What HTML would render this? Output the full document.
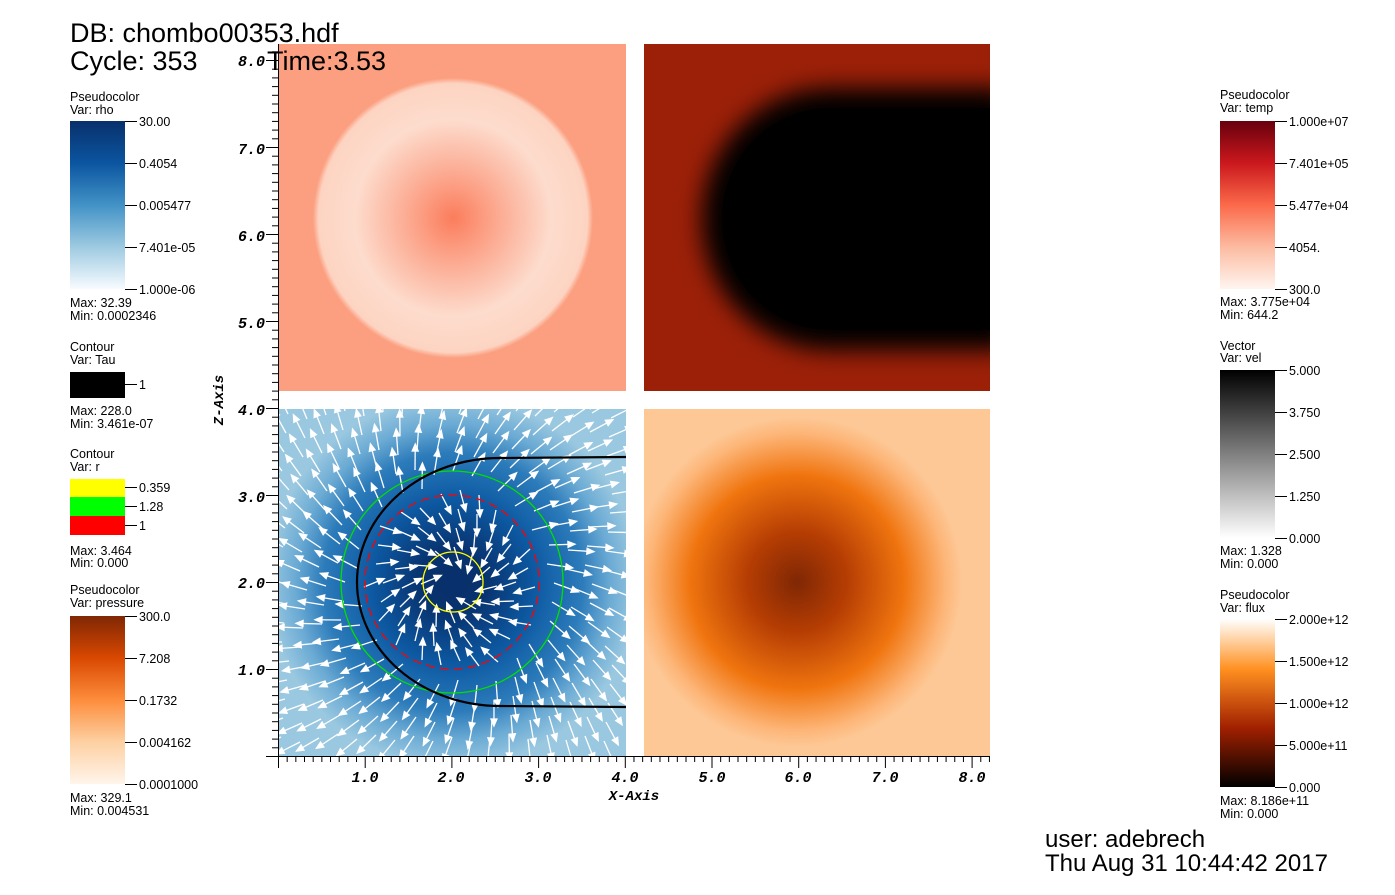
<!DOCTYPE html>
<html><head><meta charset="utf-8"><style>
body{margin:0;background:#fff;width:1395px;height:890px;overflow:hidden;font-family:"Liberation Sans",sans-serif}
</style></head><body>
<svg id="s" width="1395" height="890" xmlns="http://www.w3.org/2000/svg" font-family="Liberation Sans, sans-serif">
<defs>
<radialGradient id="tl" cx="453" cy="218" r="140" gradientUnits="userSpaceOnUse">
<stop offset="0" stop-color="#fb7d5c"/><stop offset="0.35" stop-color="#fcae96"/><stop offset="0.7" stop-color="#fddccd"/><stop offset="0.96" stop-color="#fdd4c2"/><stop offset="1" stop-color="#fc9f80"/></radialGradient>
<radialGradient id="bl" cx="453" cy="582" r="185" gradientUnits="userSpaceOnUse">
<stop offset="0" stop-color="#08306b"/><stop offset="0.17" stop-color="#08326e"/><stop offset="0.45" stop-color="#0d5aa3"/><stop offset="0.7" stop-color="#2c7bba"/><stop offset="0.85" stop-color="#6aaad4"/><stop offset="1" stop-color="#9ac8e0"/></radialGradient>
<radialGradient id="br" cx="797" cy="582" r="165" gradientUnits="userSpaceOnUse">
<stop offset="0" stop-color="#7f2704"/><stop offset="0.3" stop-color="#b53d03"/><stop offset="0.65" stop-color="#f0750f"/><stop offset="0.9" stop-color="#fdb577"/><stop offset="1" stop-color="#fdc896"/></radialGradient>
<linearGradient id="c1" x1="0" y1="0" x2="0" y2="1"><stop offset="0" stop-color="#08306b"/><stop offset="0.25" stop-color="#0b55a0"/><stop offset="0.5" stop-color="#4292c6"/><stop offset="0.75" stop-color="#9ecae1"/><stop offset="1" stop-color="#f7fbff"/></linearGradient>
<linearGradient id="c2" x1="0" y1="0" x2="0" y2="1"><stop offset="0" stop-color="#7f2704"/><stop offset="0.25" stop-color="#d94801"/><stop offset="0.5" stop-color="#fd8d3c"/><stop offset="0.75" stop-color="#fdd0a2"/><stop offset="1" stop-color="#fff5eb"/></linearGradient>
<linearGradient id="c3" x1="0" y1="0" x2="0" y2="1"><stop offset="0" stop-color="#67000d"/><stop offset="0.25" stop-color="#cb181d"/><stop offset="0.5" stop-color="#fb6a4a"/><stop offset="0.75" stop-color="#fcbba1"/><stop offset="1" stop-color="#fff5f0"/></linearGradient>
<linearGradient id="c4" x1="0" y1="0" x2="0" y2="1"><stop offset="0" stop-color="#000"/><stop offset="1" stop-color="#fff"/></linearGradient>
<linearGradient id="c5" x1="0" y1="0" x2="0" y2="1"><stop offset="0" stop-color="#fff"/><stop offset="0.3" stop-color="#ff9020"/><stop offset="0.65" stop-color="#a02000"/><stop offset="1" stop-color="#000"/></linearGradient>
<filter id="bk"><feGaussianBlur stdDeviation="12"/></filter>
<clipPath id="tr"><rect x="644" y="44" width="346" height="347"/></clipPath>
<clipPath id="blc"><rect x="279" y="409" width="347" height="347"/></clipPath>
</defs>
<rect x="279" y="44" width="347" height="347" fill="url(#tl)"/>
<rect x="644" y="44" width="346" height="347" fill="#9c2008"/>
<g clip-path="url(#tr)"><path d="M830 88 L1010 88 L1010 350 L830 350 A128 131 0 0 1 830 88Z" fill="#000" filter="url(#bk)"/><path d="M830 108 L1000 108 L1000 330 L830 330 A108 111 0 0 1 830 108Z" fill="#000"/></g>
<rect x="279" y="409" width="347" height="347" fill="url(#bl)"/>
<rect x="644" y="409" width="346" height="347" fill="url(#br)"/>
<g id="arr" clip-path="url(#blc)" stroke="#fff" fill="#fff" stroke-width="1.3"></g>
<g fill="none" stroke-width="1.3">
<circle cx="452" cy="582" r="111" stroke="#00e000"/>
<circle cx="452" cy="582" r="87" stroke="#f00" stroke-dasharray="9,5"/>
<circle cx="453" cy="582" r="30" stroke="#ff0"/>
<path d="M626 457 L500 458 A143 124 0 0 0 500 706 L626 707" stroke="#000" stroke-width="2.2"/>
</g>
<g stroke="#000" stroke-width="1" id="ax"><line x1="278.5" y1="44" x2="278.5" y2="757"/><line x1="278" y1="756.5" x2="990" y2="756.5"/></g>
<g font-family="Liberation Mono, monospace" font-weight="bold" font-style="italic" font-size="15" fill="#000">
<text x="365" y="782" text-anchor="middle">1.0</text><text x="451" y="782" text-anchor="middle">2.0</text><text x="538" y="782" text-anchor="middle">3.0</text><text x="625" y="782" text-anchor="middle">4.0</text><text x="712" y="782" text-anchor="middle">5.0</text><text x="798" y="782" text-anchor="middle">6.0</text><text x="885" y="782" text-anchor="middle">7.0</text><text x="972" y="782" text-anchor="middle">8.0</text>
<text x="634" y="800" text-anchor="middle" font-size="14">X-Axis</text>
<text x="265" y="66" text-anchor="end">8.0</text><text x="265" y="154" text-anchor="end">7.0</text><text x="265" y="241" text-anchor="end">6.0</text><text x="265" y="328" text-anchor="end">5.0</text><text x="265" y="415" text-anchor="end">4.0</text><text x="265" y="502" text-anchor="end">3.0</text><text x="265" y="588" text-anchor="end">2.0</text><text x="265" y="675" text-anchor="end">1.0</text>
<text transform="translate(223,400) rotate(-90)" text-anchor="middle" font-size="14">Z-Axis</text>
</g>
<g fill="#000" font-size="27"><text x="70" y="42">DB: chombo00353.hdf</text><text x="70" y="70">Cycle: 353</text><text x="267" y="70">Time:3.53</text>
<text x="1045" y="847" font-size="24">user: adebrech</text><text x="1045" y="871" font-size="24">Thu Aug 31 10:44:42 2017</text></g>
<g font-size="12.5" fill="#000" stroke="#000">
<g stroke="none"><text x="70" y="101">Pseudocolor</text><text x="70" y="114">Var: rho</text><text x="70" y="307">Max:  32.39</text><text x="70" y="320">Min:  0.0002346</text>
<text x="70" y="351">Contour</text><text x="70" y="364">Var: Tau</text><text x="70" y="415">Max:  228.0</text><text x="70" y="428">Min:  3.461e-07</text>
<text x="70" y="458">Contour</text><text x="70" y="471">Var: r</text><text x="70" y="555">Max:  3.464</text><text x="70" y="567">Min:  0.000</text>
<text x="70" y="594">Pseudocolor</text><text x="70" y="607">Var: pressure</text><text x="70" y="802">Max:  329.1</text><text x="70" y="815">Min:  0.004531</text>
<text x="1220" y="99">Pseudocolor</text><text x="1220" y="112">Var: temp</text><text x="1220" y="306">Max:  3.775e+04</text><text x="1220" y="319">Min:  644.2</text>
<text x="1220" y="350">Vector</text><text x="1220" y="362">Var: vel</text><text x="1220" y="555">Max:  1.328</text><text x="1220" y="568">Min:  0.000</text>
<text x="1220" y="599">Pseudocolor</text><text x="1220" y="612">Var: flux</text><text x="1220" y="805">Max:  8.186e+11</text><text x="1220" y="818">Min:  0.000</text></g>
<rect x="70" y="121" width="55" height="168" fill="url(#c1)" stroke="none"/>
<rect x="70" y="372" width="55" height="26" fill="#000" stroke="none"/>
<rect x="70" y="479" width="55" height="18" fill="#ff0" stroke="none"/><rect x="70" y="497" width="55" height="19" fill="#0f0" stroke="none"/><rect x="70" y="516" width="55" height="19" fill="#f00" stroke="none"/>
<rect x="70" y="616" width="55" height="168" fill="url(#c2)" stroke="none"/>
<rect x="1220" y="121" width="55" height="168" fill="url(#c3)" stroke="none"/>
<rect x="1220" y="370" width="55" height="168" fill="url(#c4)" stroke="none"/>
<rect x="1220" y="619" width="55" height="168" fill="url(#c5)" stroke="none"/>
</g>
<g id="lbl" font-size="12.5" fill="#000"></g>
</svg>
<script>
var ns="http://www.w3.org/2000/svg",s=document.getElementById('s');
function el(p,t,a,txt){var e=document.createElementNS(ns,t);for(var k in a)e.setAttribute(k,a[k]);if(txt)e.textContent=txt;p.appendChild(e);return e;}
var lb=document.getElementById('lbl');
function bar(x,ys,labs){for(var i=0;i<ys.length;i++){el(lb,'line',{x1:x,x2:x+12,y1:ys[i]+.5,y2:ys[i]+.5,stroke:'#000'});el(lb,'text',{x:x+14,y:ys[i]+5},labs[i]);}}
bar(125,[121,163,205,247,289],['30.00','0.4054','0.005477','7.401e-05','1.000e-06']);
bar(125,[384],['1']);
bar(125,[487,506,525],['0.359','1.28','1']);
bar(125,[616,658,700,742,784],['300.0','7.208','0.1732','0.004162','0.0001000']);
bar(1275,[121,163,205,247,289],['1.000e+07','7.401e+05','5.477e+04','4054.','300.0']);
bar(1275,[370,412,454,496,538],['5.000','3.750','2.500','1.250','0.000']);
bar(1275,[619,661,703,745,787],['2.000e+12','1.500e+12','1.000e+12','5.000e+11','0.000']);
var ax=document.getElementById('ax');
for(var i=0;i<=82;i++){var x=278.5+i*8.67,maj=(i%10==0);el(ax,'line',{x1:x,x2:x,y1:756,y2:756+(maj?12:6)});}
for(var i=0;i<=82;i++){var y=756.5-i*8.7,maj=(i%10==0);if(y<44)break;el(ax,'line',{x1:278,x2:278-(maj?12:6),y1:y,y2:y});}
var g=document.getElementById('arr'),cx=453,cy=582;
for(var yy=415;yy<756;yy+=19)for(var xx=285;xx<626;xx+=19){
var px=xx+((yy*7)%9)-4,py=yy+((xx*5)%9)-4,dx=px-cx,dy=py-cy,r=Math.sqrt(dx*dx+dy*dy)+1;
if(r<32)continue;var ux=dx/r,uy=dy/r,sg=r<95?-1:1;var vx=sg*ux-0.35*uy,vy=sg*uy+0.35*ux;var n=Math.sqrt(vx*vx+vy*vy);vx/=n;vy/=n;
var L=r<95?22:26;var x2=px+vx*L,y2=py+vy*L;
el(g,'line',{x1:px,y1:py,x2:x2,y2:y2});
el(g,'polygon',{points:x2+','+y2+' '+(x2-vx*7-vy*3)+','+(y2-vy*7+vx*3)+' '+(x2-vx*7+vy*3)+','+(y2-vy*7-vx*3)});}
</script>
</body></html>
